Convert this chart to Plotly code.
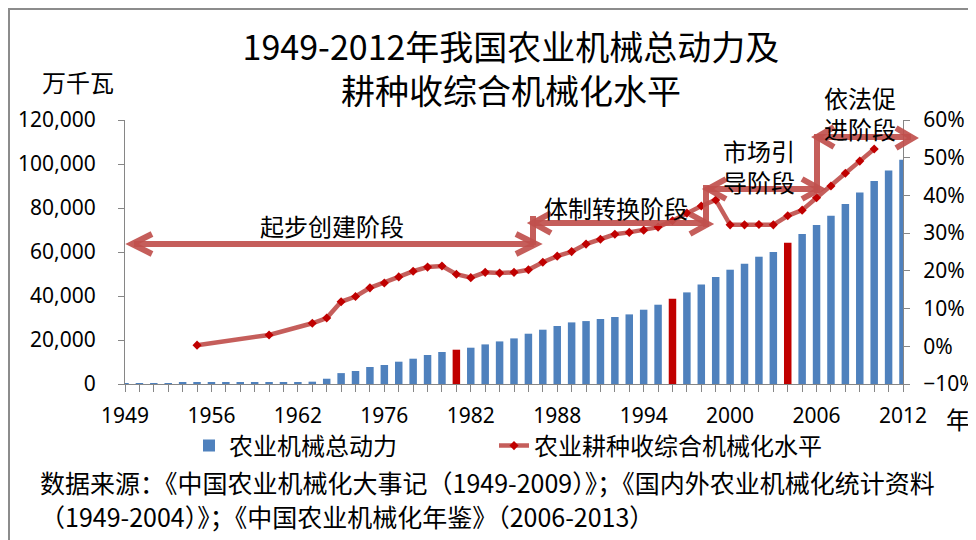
import plotly.graph_objects as go

# ---------------- data ----------------
years = ["1949", "1950", "1952", "1953", "1954", "1955", "1956", "1957", "1958", "1959",
         "1960", "1961", "1962", "1965", "1970", "1973", "1974", "1975", "1976", "1977",
         "1978", "1979", "1980", "1981", "1982", "1983", "1984", "1985", "1986", "1987",
         "1988", "1989", "1990", "1991", "1992", "1993", "1994", "1995", "1996", "1997",
         "1998", "1999", "2000", "2001", "2002", "2003", "2004", "2005", "2006", "2007",
         "2008", "2009", "2010", "2011", "2012"]

# 农业机械总动力 (万千瓦)
power = [400, 400, 450, 450, 500, 500, 550, 600, 600, 650,
         700, 700, 760, 1050, 2400, 4950, 5900, 7730, 8640, 10140,
         11500, 13180, 14550, 15590, 16500, 18000, 19360, 20730, 22860, 24680,
         26360, 28000, 28600, 29540, 30450, 31640, 33770, 36040, 38770, 41640,
         45280, 48640, 51950, 54680, 57860, 60000, 64230, 68180, 72270, 76500,
         81800, 87090, 92270, 97090, 101950]

# 农业耕种收综合机械化水平 (%)
mech = [None, None, None, None, None, 0.3, None, None, None, None,
        3.0, None, None, 6.1, 7.5, 11.8, 13.2, 15.5, 16.8, 18.4,
        19.9, 21.0, 21.3, 19.1, 18.2, 19.6, 19.4, 19.6, 20.3, 22.3,
        23.9, 25.1, 27.1, 28.4, 29.7, 30.2, 30.8, 31.6, 33.3, 35.3,
        37.2, 38.8, 32.2, 32.2, 32.3, 32.2, 34.6, 36.1, 39.4, 42.5,
        45.9, 49.1, 52.3, None, None]

highlight_years = ["1981", "1996", "2004"]
label_years = ["1949", "1956", "1962", "1976", "1982", "1988", "1994", "2000", "2006", "2012"]

left_ticks = [0, 20000, 40000, 60000, 80000, 100000, 120000]
right_ticks = [-0.1, 0, 0.1, 0.2, 0.3, 0.4, 0.5, 0.6]

stages = ["起步创建阶段", "体制转换阶段", "市场引<br>导阶段", "依法促<br>进阶段"]

# ---------------- styling ----------------
BLUE = "#4F81BD"
DARKRED = "#C00000"
ARROW = "rgba(192,80,77,0.92)"
CJK = "Noto Sans CJK SC"
NUM = "Noto Sans"

OFF = 8                      # page margin of the html body
W, H = 976 - OFF, 540 - OFF  # figure size
L, T = 125 - OFF, 120 - OFF  # plot area top-left (figure px)
PR, PB = 903 - OFF, 384 - OFF
R, B = W - PR, H - PB
PW, PH = PR - L, PB - T


def px(X):
    # X given in screen pixels
    return (X - OFF - L) / PW


def py(Y):
    return (PB - (Y - OFF)) / PH


bar_colors = [DARKRED if y in highlight_years else BLUE for y in years]
mech_frac = [None if v is None else v / 100 for v in mech]

fig = go.Figure()
fig.add_trace(go.Bar(
    x=years, y=power, name="农业机械总动力",
    marker=dict(color=bar_colors, line=dict(width=0)),
    width=0.52, legend="legend", showlegend=True,
))
fig.add_trace(go.Scatter(
    x=years, y=mech_frac, name="农业耕种收综合机械化水平", yaxis="y2",
    mode="lines+markers", connectgaps=True,
    line=dict(color=ARROW, width=4.5),
    marker=dict(symbol="diamond", size=7, color=DARKRED),
    legend="legend2", showlegend=True,
))

ticktext = [y if y in label_years else "" for y in years]

shapes = []


def seg(x0, y0, x1, y1, w=6):
    shapes.append(dict(type="line", xref="paper", yref="paper",
                       x0=px(x0), y0=py(y0), x1=px(x1), y1=py(y1),
                       line=dict(color=ARROW, width=w)))


def chevron(tx, ty, dx, dy=10):
    shapes.append(dict(type="path", xref="paper", yref="paper",
                       path=f"M{px(tx + dx)},{py(ty - dy)} L{px(tx)},{py(ty)} L{px(tx + dx)},{py(ty + dy)}",
                       line=dict(color=ARROW, width=6)))


# arrow 1: 起步创建阶段
seg(134, 244, 534, 244)
chevron(132, 244, 20)
chevron(536, 244, -20)
# arrow 2: 体制转换阶段
seg(533, 245, 533, 216)
seg(534, 223, 706, 223)
chevron(533, 223, 18)
chevron(708, 224, -18)
# arrow 3: 市场引导阶段
seg(706, 227, 706, 185)
seg(708, 189, 818, 189)
chevron(708, 189, 18)
chevron(820, 189, -18)
# arrow 4: 依法促进阶段
seg(817, 193, 817, 134)
seg(818, 137, 911, 137)
chevron(817, 137, 17)
chevron(913, 138, -17)

# chart border
shapes.append(dict(type="rect", xref="paper", yref="paper",
                   x0=px(9), y0=py(9), x1=px(1000), y1=py(600),
                   line=dict(color="#8c8c8c", width=2), layer="below"))

annotations = []


def text(s, X, Y, size=24, anchor="center"):
    annotations.append(dict(text=s, xref="paper", yref="paper", x=px(X), y=py(Y),
                            xanchor=anchor, yanchor="middle", showarrow=False,
                            font=dict(family=CJK, size=size, color="#000000")))


text(stages[0], 332, 225)
text(stages[1], 616, 207)
text(stages[2], 759, 166)
text(stages[3], 860, 113)
text("万千瓦", 78, 82)
text("年", 958, 418)
text("数据来源：《中国农业机械化大事记（1949-2009）》；《国内外农业机械化统计资料", 38, 482, size=25, anchor="left")
text("（1949-2004）》；《中国农业机械化年鉴》（2006-2013）", 38, 516, size=25, anchor="left")

legend_font = dict(family=CJK, size=24, color="#000000")

fig.update_layout(
    width=W, height=H, showlegend=True,
    margin=dict(l=L, r=R, t=T, b=B, autoexpand=False),
    paper_bgcolor="white", plot_bgcolor="white",
    title=dict(text="1949-2012年我国农业机械总动力及<br>耕种收综合机械化水平",
               x=(511 - OFF) / W, xanchor="center", xref="container",
               y=1 - (60 - OFF) / H, yanchor="middle", yref="container",
               font=dict(family=CJK, size=34, color="#000000")),
    xaxis=dict(type="category", range=[0, len(years) - 1],
               tickmode="array", tickvals=years, ticktext=ticktext,
               ticks="outside", ticklen=7, tickcolor="#868686",
               showline=True, linecolor="#868686", linewidth=1,
               showgrid=False, ticklabelstandoff=6,
               tickfont=dict(family=NUM, size=21, color="#000000")),
    yaxis=dict(range=[0, 120000], tickmode="array", tickvals=left_ticks,
               tickformat=",", ticks="outside", ticklen=6, tickcolor="#868686",
               showline=True, linecolor="#868686", linewidth=1,
               showgrid=False, zeroline=False, ticklabelstandoff=18,
               tickfont=dict(family=NUM, size=21, color="#000000")),
    yaxis2=dict(range=[-0.1, 0.6], tickmode="array", tickvals=right_ticks,
                tickformat=".0%", overlaying="y", side="right", anchor="x",
                ticks="outside", ticklen=6, tickcolor="#868686",
                showline=True, linecolor="#868686", linewidth=1,
                showgrid=False, zeroline=False, ticklabelstandoff=9,
                tickfont=dict(family=NUM, size=21, color="#000000")),
    legend=dict(orientation="h", x=px(189), y=py(446), xanchor="left", yanchor="middle",
                font=legend_font, bgcolor="rgba(0,0,0,0)", visible=True),
    legend2=dict(orientation="h", x=px(494), y=py(446), xanchor="left", yanchor="middle",
                 font=legend_font, bgcolor="rgba(0,0,0,0)", visible=True),
    shapes=shapes,
    annotations=annotations,
)

fig.write_html("out.html")
